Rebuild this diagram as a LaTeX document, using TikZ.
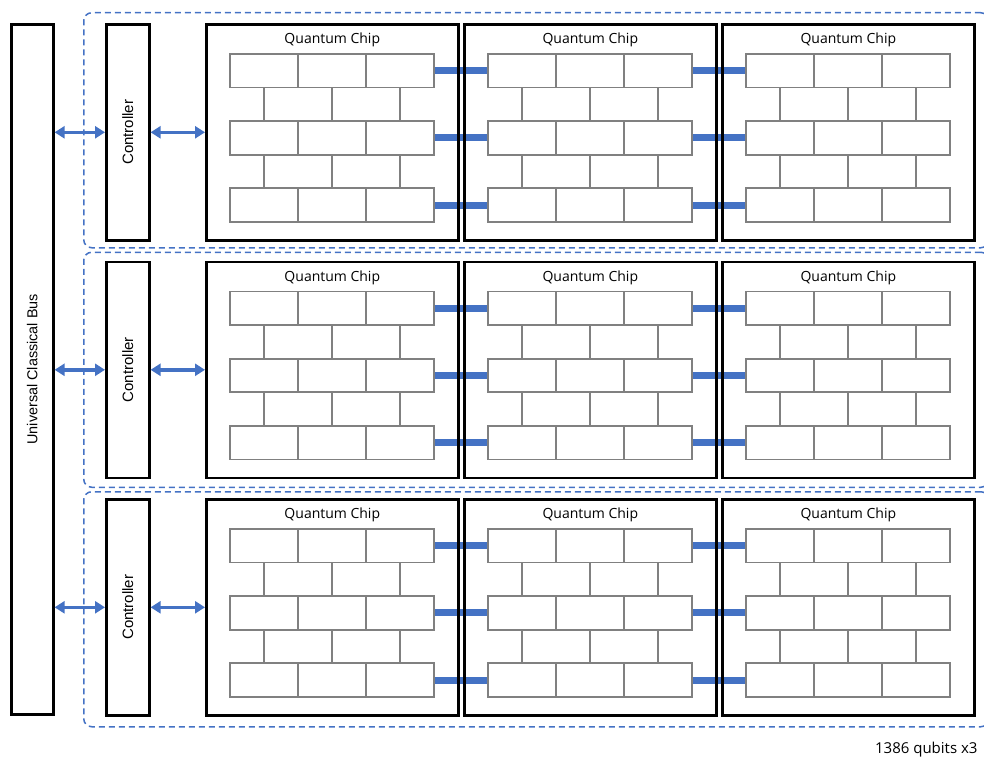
\documentclass[tikz,border=0pt]{standalone}
\usepackage{fontspec}
\newfontfamily\chipfont{Open Sans}
\newfontfamily\arialfont{Liberation Sans}
\usetikzlibrary{arrows.meta,backgrounds}

\definecolor{linkblue}{HTML}{4472C4}
\definecolor{brickgray}{HTML}{808080}

\begin{document}
\begin{tikzpicture}[
  x=1pt, y=-1pt,
  box/.style={draw=black, line width=2.6pt, inner sep=0pt, anchor=north west},
  brick/.style={draw=brickgray, line width=1.8pt, minimum width=68pt, minimum height=33.6pt, inner sep=0pt, anchor=north west},
  group/.style={draw=linkblue, line width=1.5pt, dash pattern=on 6pt off 4pt, rounded corners=8pt, minimum width=905pt, minimum height=235pt, inner sep=0pt, anchor=north west},
  link/.style={draw=linkblue, line width=7pt},
  bidir/.style={draw=linkblue, line width=3.5pt, {Triangle[length=10pt,width=12pt]}-{Triangle[length=10pt,width=12pt]}},
  sidetext/.style={rotate=90, font=\arialfont\fontsize{14.4}{16}\selectfont},
  chiptext/.style={font=\chipfont\fontsize{14}{16}\selectfont}
]
  \clip (0,0) rectangle (984,757);

  \node[box, minimum width=42pt, minimum height=690pt] (bus) at (10,23) {};
  \node[sidetext] (buslbl) at (bus.center) {Universal Classical Bus};

  \foreach \r in {1,2,3} {
    \pgfmathsetmacro{\gy}{12+239.5*(\r-1)}
    \pgfmathsetmacro{\cy}{23+237.5*(\r-1)}
    \begin{pgfonlayer}{background}
      \node[group] (grp\r) at (83,\gy) {};
    \end{pgfonlayer}
    \node[box, minimum width=43pt, minimum height=216pt] (ctrl\r) at (105,\cy) {};
    \node[sidetext, font=\arialfont\fontsize{15}{17}\selectfont] (ctrllbl\r) at (ctrl\r.center) {Controller};
    \foreach \c in {1,2,3} {
      \pgfmathsetmacro{\cx}{205+258*(\c-1)}
      \node[box, minimum width=252pt, minimum height=216pt] (chip\r\c) at (\cx,\cy) {};
      \node[chiptext] (chiplbl\r\c) at ([yshift=-17pt]chip\r\c.north) {Quantum Chip};
      % full rows of three, offset rows of two
      \foreach \k in {0,2,4}
        \foreach \b in {1,2,3}
          \node[brick] (br\r\c-\k-\b) at ({\cx+24+68*(\b-1)},{\cy+30+33.6*\k}) {};
      \foreach \k in {1,3}
        \foreach \b in {1,2}
          \node[brick] (br\r\c-\k-\b) at ({\cx+58+68*(\b-1)},{\cy+30+33.6*\k}) {};
    }
    \begin{pgfonlayer}{background}
      \foreach \c/\n in {1/2,2/3}
        \foreach \k in {0,2,4}
          \draw[link] (br\r\c-\k-3.east) -- (br\r\n-\k-1.west);
    \end{pgfonlayer}
    \draw[bidir] (bus.east |- ctrl\r.west) -- (ctrl\r.west);
    \draw[bidir] (ctrl\r.east) -- (chip\r1.west);
  }

  \node[chiptext, font=\chipfont\fontsize{15}{17}\selectfont, anchor=base east] (qubits) at (981,753) {1386 qubits x3};
\end{tikzpicture}
\end{document}
